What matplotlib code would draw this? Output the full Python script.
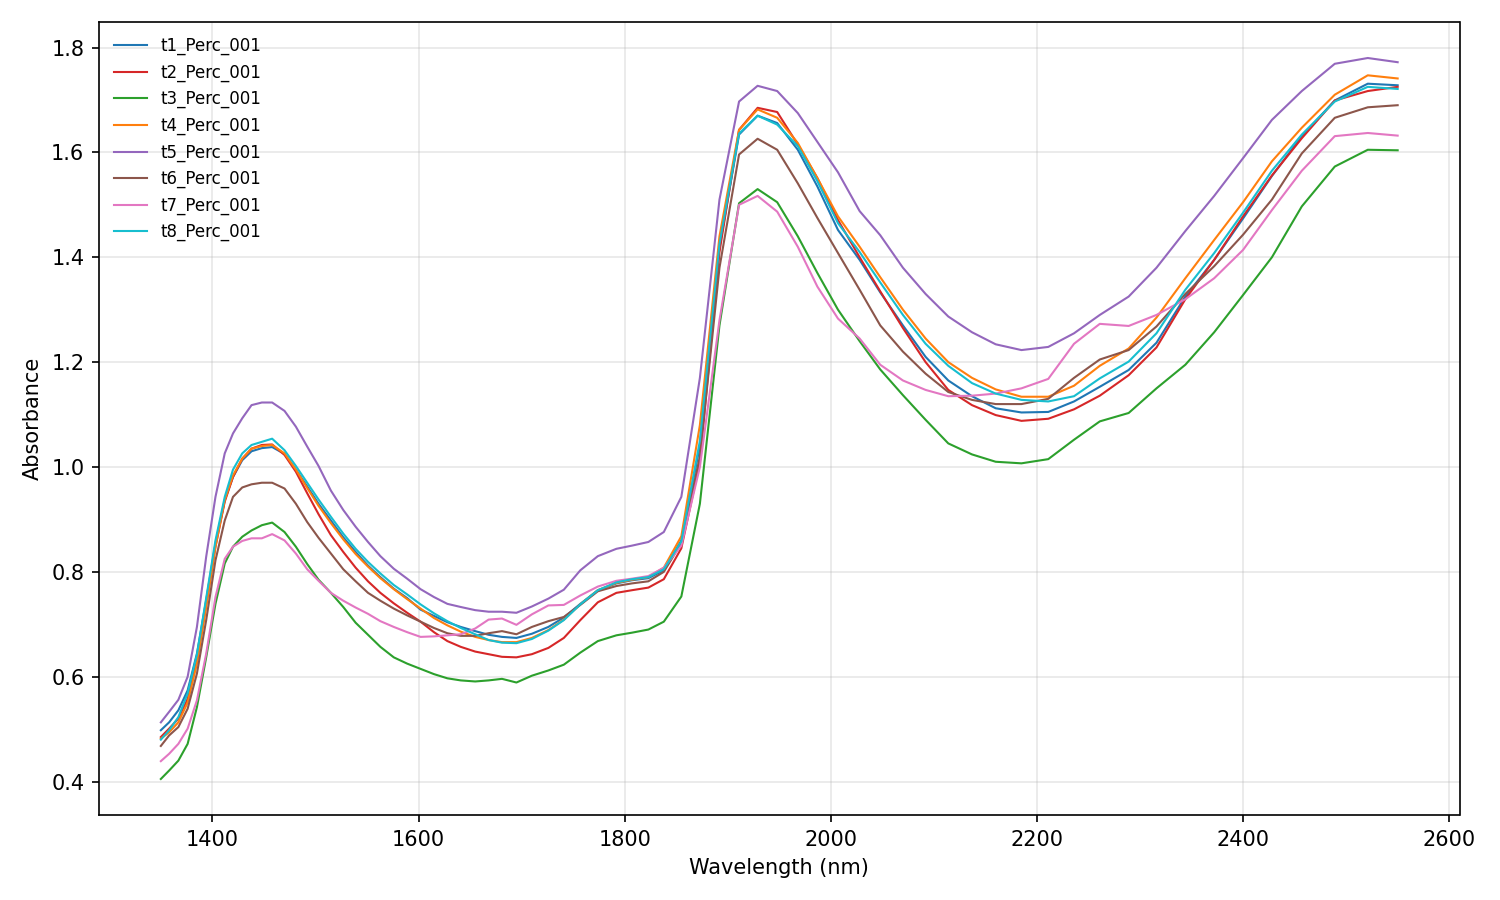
import matplotlib
matplotlib.use("Agg")
import matplotlib.pyplot as plt

wavelength = [1350, 1358, 1367, 1376, 1385, 1394, 1403, 1412, 1420, 1429,
              1438, 1448, 1458, 1470, 1481, 1492, 1503, 1515, 1527, 1539,
              1551, 1563, 1576, 1589, 1602, 1615, 1628, 1641, 1655, 1668,
              1681, 1695, 1710, 1726, 1741, 1757, 1774, 1792, 1807, 1823,
              1838, 1855, 1873, 1892, 1911, 1929, 1948, 1968, 1987, 2007,
              2028, 2048, 2070, 2092, 2114, 2137, 2160, 2185, 2211, 2236,
              2261, 2289, 2316, 2344, 2372, 2400, 2428, 2457, 2489, 2521, 2550]

t1 = [.498, .513, .536, .574, .644, .746, .854, .937, .981, 1.013,
      1.030, 1.036, 1.038, 1.025, .995, .963, .930, .898, .866, .838,
      .812, .790, .768, .750, .728, .716, .704, .695, .687, .680,
      .676, .674, .682, .695, .713, .739, .765, .778, .784, .788,
      .803, .860, 1.04, 1.42, 1.634, 1.670, 1.656, 1.605, 1.535, 1.452,
      1.395, 1.333, 1.270, 1.210, 1.165, 1.135, 1.112, 1.104, 1.105, 1.125,
      1.153, 1.185, 1.237, 1.325, 1.395, 1.474, 1.555, 1.631, 1.699, 1.731, 1.728]

t2 = [.485, .501, .520, .558, .631, .739, .848, .934, .981, 1.016,
      1.035, 1.042, 1.043, 1.023, .991, .950, .910, .870, .838, .808,
      .782, .760, .740, .722, .705, .685, .668, .657, .648, .643,
      .638, .637, .643, .655, .674, .708, .742, .760, .765, .770,
      .786, .845, 1.01, 1.41, 1.643, 1.685, 1.677, 1.615, 1.551, 1.471,
      1.400, 1.335, 1.265, 1.200, 1.147, 1.118, 1.099, 1.088, 1.092, 1.110,
      1.136, 1.175, 1.228, 1.320, 1.395, 1.478, 1.556, 1.627, 1.699, 1.717, 1.725]

t3 = [.405, .421, .440, .472, .542, .637, .739, .816, .848, .867,
      .879, .889, .894, .876, .848, .815, .785, .760, .733, .703,
      .680, .657, .637, .625, .615, .605, .597, .593, .591, .593,
      .596, .589, .602, .612, .623, .646, .668, .679, .684, .690,
      .705, .753, .93, 1.27, 1.503, 1.530, 1.505, 1.440, 1.370, 1.300,
      1.240, 1.186, 1.137, 1.090, 1.045, 1.024, 1.010, 1.007, 1.015, 1.052,
      1.087, 1.103, 1.150, 1.195, 1.257, 1.328, 1.400, 1.497, 1.573, 1.605, 1.604]

t4 = [.482, .494, .513, .551, .625, .733, .848, .937, .984, 1.016,
      1.035, 1.040, 1.042, 1.026, .995, .960, .926, .893, .862, .834,
      .810, .788, .767, .748, .730, .712, .698, .686, .676, .670,
      .666, .666, .674, .689, .709, .738, .765, .779, .785, .790,
      .808, .868, 1.08, 1.44, 1.643, 1.682, 1.666, 1.618, 1.551, 1.478,
      1.420, 1.362, 1.300, 1.245, 1.200, 1.170, 1.148, 1.134, 1.134, 1.155,
      1.193, 1.226, 1.285, 1.360, 1.433, 1.505, 1.583, 1.647, 1.710, 1.747, 1.741]

t5 = [.513, .533, .556, .600, .695, .829, .943, 1.026, 1.064, 1.093,
      1.118, 1.123, 1.123, 1.107, 1.077, 1.039, 1.002, .955, .918, .886,
      .857, .830, .806, .787, .767, .752, .739, .733, .727, .724,
      .724, .722, .734, .749, .766, .803, .830, .844, .850, .857,
      .876, .943, 1.17, 1.51, 1.697, 1.727, 1.717, 1.675, 1.620, 1.562,
      1.488, 1.442, 1.380, 1.330, 1.287, 1.257, 1.234, 1.223, 1.229, 1.255,
      1.290, 1.325, 1.380, 1.450, 1.517, 1.589, 1.662, 1.717, 1.769, 1.780, 1.772]

t6 = [.468, .488, .504, .539, .606, .708, .822, .898, .943, .961,
      .967, .970, .970, .959, .930, .895, .865, .835, .805, .782,
      .760, .745, .730, .717, .705, .693, .683, .678, .678, .683,
      .687, .681, .695, .706, .714, .737, .763, .773, .778, .782,
      .800, .855, 1.02, 1.38, 1.596, 1.626, 1.605, 1.541, 1.475, 1.408,
      1.338, 1.270, 1.220, 1.178, 1.143, 1.128, 1.120, 1.120, 1.130, 1.170,
      1.205, 1.223, 1.268, 1.330, 1.383, 1.443, 1.510, 1.598, 1.666, 1.686, 1.690]

t7 = [.439, .453, .472, .501, .555, .644, .752, .825, .848, .859,
      .864, .864, .872, .860, .835, .805, .783, .760, .745, .732,
      .720, .706, .695, .685, .676, .677, .679, .681, .692, .709,
      .711, .699, .719, .736, .737, .755, .772, .783, .787, .792,
      .808, .850, 1.00, 1.28, 1.500, 1.517, 1.487, 1.420, 1.344, 1.283,
      1.245, 1.195, 1.165, 1.147, 1.135, 1.136, 1.140, 1.150, 1.168, 1.235,
      1.273, 1.269, 1.290, 1.320, 1.360, 1.414, 1.490, 1.565, 1.631, 1.637, 1.632]

t8 = [.480, .498, .523, .568, .642, .750, .860, .943, .995, 1.026,
      1.042, 1.048, 1.054, 1.032, 1.002, .970, .938, .905, .873, .844,
      .819, .797, .775, .757, .738, .721, .706, .693, .681, .670,
      .665, .664, .672, .688, .708, .738, .765, .780, .786, .790,
      .805, .858, 1.05, 1.425, 1.636, 1.670, 1.653, 1.612, 1.545, 1.465,
      1.410, 1.352, 1.290, 1.235, 1.193, 1.160, 1.140, 1.128, 1.125, 1.135,
      1.169, 1.201, 1.255, 1.338, 1.408, 1.485, 1.565, 1.634, 1.697, 1.725, 1.721]

series = [t1, t2, t3, t4, t5, t6, t7, t8]
labels = ["t1_Perc_001", "t2_Perc_001", "t3_Perc_001", "t4_Perc_001",
          "t5_Perc_001", "t6_Perc_001", "t7_Perc_001", "t8_Perc_001"]
colors = ["#1f77b4", "#d62728", "#2ca02c", "#ff7f0e",
          "#9467bd", "#8c564b", "#e377c2", "#17becf"]

fig = plt.figure(figsize=(10, 6), dpi=150)
ax = fig.add_axes([0.066, 0.0944, 0.907, 0.8812])
for ys, lab, c in zip(series, labels, colors):
    ax.plot(wavelength, ys, color=c, lw=1.0, label=lab)

ax.set_xlabel("Wavelength (nm)")
ax.set_ylabel("Absorbance")
ax.grid(True, alpha=0.3)
ax.set_axisbelow(True)
ax.legend(loc="upper left", frameon=False, fontsize=8)
fig.savefig("out.png", dpi=150)
